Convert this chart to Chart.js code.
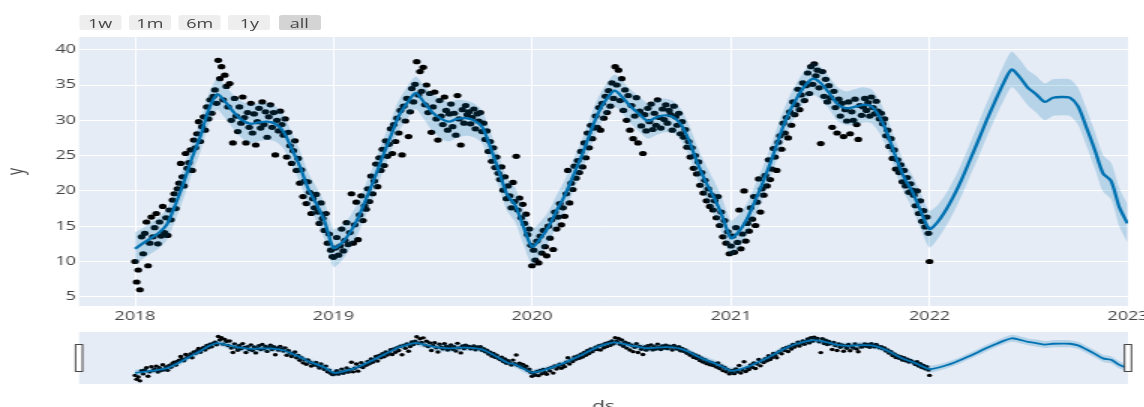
<!DOCTYPE html>
<html>
<head>
<meta charset="utf-8">
<script src="https://cdn.jsdelivr.net/npm/chart.js@4.4.0/dist/chart.umd.min.js"></script>
<style>
  html, body { margin: 0; padding: 0; background: #fff; overflow: hidden; width: 1144px; height: 407px; }
  /* the reference is stretched sideways, so the whole chart is drawn narrow and scaled */
  #wrap { position: absolute; left: 0; top: 0; width: 780px; height: 430px; transform: scaleX(1.5); transform-origin: 0 0; }
  #main { position: absolute; left: 0; top: 0; }
  #slider { position: absolute; left: 0; top: 325px; }
  .btn { position: absolute; top: 15px; height: 15px; width: 28px; line-height: 15px; background: #eeeeee; color: #444;
         font: 12px "Open Sans", sans-serif; text-align: center; border-radius: 2px; }
  .btn.active { background: #d4d4d4; }
</style>
</head>
<body>
<div id="wrap">
  <div id="buttons"></div>
  <canvas id="main" width="780" height="330"></canvas>
  <canvas id="slider" width="780" height="100"></canvas>
</div>
<script>
var rangeButtons = ["1w", "1m", "6m", "1y", "all"];
var yearTicks = [2018, 2019, 2020, 2021, 2022, 2023];
var yTicks = [5, 10, 15, 20, 25, 30, 35, 40];

// observed y, one value every 3 days starting Jan 1
var obs2018 = [10.0, 7.1, 8.8, 6.0, 13.5, 11.1, 14.0, 15.6, 9.4, 12.6, 16.3,
  13.5, 14.8, 16.8, 12.5, 15.6, 13.6, 17.8, 14.1, 16.2,
  13.7, 17.3, 15.9, 18.7, 19.6, 17.5, 20.3, 21.1, 23.9, 22.0,
  20.7, 25.3, 23.2, 24.0, 25.8, 22.9, 27.2, 26.1, 28.1, 29.8,
  27.0, 29.1, 30.5, 28.6, 31.9, 30.2, 32.9, 31.0, 33.4, 34.3, 32.4,
  38.5, 35.9, 37.6, 32.9, 36.4, 34.8, 31.9, 35.2, 30.0, 26.8,
  33.1, 30.6, 28.4, 31.9, 29.6, 33.3, 30.4, 26.8, 31.1, 29.0, 32.4,
  28.2, 30.9, 26.5, 29.8, 31.7, 28.9, 32.6, 29.4, 31.2, 27.6,
  30.5, 32.2, 29.0, 31.1, 25.1, 30.0, 28.5, 31.3, 29.4, 27.9,
  30.2, 24.8, 28.3, 26.4, 23.9, 25.7, 27.1, 22.9, 24.6, 21.1,
  23.0, 19.2, 21.4, 18.2, 21.3, 19.8, 16.8, 18.9, 17.6, 19.5,
  17.0, 15.4, 18.3, 16.1, 14.4, 16.8, 12.6, 13.9, 11.6, 10.7];
var obs2019 = [10.6, 11.9, 13.4, 10.9, 12.2, 14.6, 11.5, 13.0, 15.5, 12.4, 14.1,
  19.6, 12.6, 15.2, 18.4, 13.1, 16.6, 19.3, 15.8, 17.9,
  17.4, 20.3, 18.5, 22.1, 19.6, 21.4, 23.8, 20.6, 24.7, 22.9,
  25.9, 23.6, 27.1, 24.9, 26.6, 28.8, 25.3, 29.4, 27.0, 30.3,
  28.2, 31.4, 25.1, 32.0, 29.9, 33.1, 27.7, 31.2, 34.5, 32.6, 35.1,
  38.3, 33.6, 36.9, 34.1, 37.5, 32.2, 35.0, 31.1, 33.8, 28.3,
  31.9, 34.0, 30.2, 27.2, 32.8, 30.6, 29.4, 33.3, 31.4, 28.6, 30.9,
  32.3, 29.1, 31.0, 27.9, 33.5, 30.2, 26.5, 31.5, 29.6, 32.1,
  30.8, 31.2, 29.5, 30.4, 31.6, 28.8, 30.9, 29.9, 31.1, 28.4,
  29.6, 27.3, 28.5, 25.6, 27.0, 24.2, 26.1, 23.3, 24.8, 22.5,
  21.6, 23.4, 20.1, 22.0, 18.9, 20.7, 19.3, 17.6, 21.2, 18.5,
  24.9, 17.3, 19.0, 16.2, 18.1, 15.4, 16.7, 13.8, 14.6, 12.3];
var obs2020 = [9.4, 11.6, 10.2, 12.9, 9.8, 13.6, 11.2, 14.4, 12.1, 10.8, 15.0,
  13.3, 15.9, 11.7, 17.0, 14.6, 16.3, 18.2, 15.2, 17.6,
  16.4, 19.6, 22.9, 18.3, 21.1, 20.2, 23.5, 21.8, 24.3, 22.6,
  25.6, 23.4, 26.8, 24.7, 28.2, 26.1, 29.3, 27.4, 28.9, 30.6,
  29.0, 31.8, 28.6, 32.4, 30.3, 33.4, 31.1, 34.2, 32.0, 35.3, 33.1,
  37.6, 35.0, 37.1, 32.8, 35.9, 31.4, 34.3, 30.0, 33.5, 28.6,
  32.1, 27.4, 30.6, 33.2, 26.8, 31.3, 29.2, 25.3, 30.8, 28.5, 31.7,
  29.8, 32.3, 28.7, 31.0, 29.3, 32.9, 30.4, 28.9, 31.6, 30.1,
  32.2, 29.6, 31.4, 30.8, 28.6, 32.0, 30.5, 29.3, 31.0, 28.1,
  29.8, 27.6, 28.7, 26.2, 27.0, 24.8, 26.1, 23.2, 25.0, 22.4,
  24.1, 20.8, 22.6, 19.7, 21.5, 18.6, 20.3, 17.8, 19.4, 17.3,
  18.6, 16.2, 19.2, 15.1, 17.0, 13.5, 15.8, 12.6, 14.2, 11.1];
var obs2021 = [12.2, 13.6, 11.3, 14.8, 12.7, 17.3, 11.8, 13.9, 20.0, 12.9, 15.4,
  14.3, 17.6, 16.0, 19.2, 15.1, 18.4, 21.7, 17.0, 20.3,
  19.4, 22.2, 20.7, 24.4, 21.6, 23.1, 26.0, 24.8, 22.9, 26.9,
  27.8, 25.9, 29.6, 28.2, 30.4, 27.5, 31.2, 29.3, 32.6, 30.8,
  32.2, 34.4, 31.5, 33.6, 35.3, 32.8, 34.9, 36.7, 33.8, 37.6, 35.1,
  38.0, 36.3, 37.1, 34.6, 26.7, 36.9, 33.4, 35.8, 32.6, 34.9,
  33.2, 29.0, 34.1, 31.8, 28.2, 33.0, 30.6, 32.4, 27.7, 31.5, 29.9,
  32.6, 28.1, 31.2, 30.0, 33.0, 29.4, 27.3, 32.1, 30.7, 31.9,
  33.1, 31.4, 32.5, 30.6, 33.3, 31.8, 30.9, 32.7, 31.3, 30.2,
  31.0, 29.5, 30.2, 27.8, 28.6, 26.3, 27.4, 24.6, 25.8, 23.1,
  24.4, 22.6, 23.7, 21.3, 22.9, 20.7, 21.9, 19.8, 21.0, 20.1,
  19.4, 17.9, 20.0, 16.8, 18.6, 15.7, 17.2, 14.9, 16.3, 14.0];
var obsExtra = [["2022-01-01", 10.0]];

// forecast on the 1st and 16th of every month 2018-2022, last value is 2022-12-31
var yhat = [11.8, 12.6, 13.4, 14.2, 15.3, 18.0, 21.3, 24.7, 27.7, 31.4, 33.7, 32.6, 31.2, 30.1, 29.5, 29.7, 29.8, 29.5, 28.4, 26.0, 23.3, 20.2, 18.1, 15.6,
  11.9, 12.6, 14.2, 16.3, 18.7, 21.5, 24.8, 27.7, 30.6, 32.4, 33.9, 32.6, 31.2, 30.3, 29.8, 30.2, 30.3, 30.0, 29.1, 26.3, 22.8, 19.5, 18.0, 15.0,
  12.1, 13.2, 15.0, 17.3, 19.3, 22.0, 24.9, 28.0, 30.9, 32.9, 34.2, 33.2, 31.9, 30.9, 29.9, 30.4, 30.7, 30.5, 29.4, 27.1, 23.8, 21.2, 19.0, 16.4,
  13.3, 14.3, 16.3, 18.9, 21.3, 24.3, 27.9, 30.8, 33.0, 34.8, 35.9, 35.2, 33.8, 32.3, 31.7, 31.9, 32.2, 32.0, 30.5, 28.0, 24.6, 21.8, 19.8, 17.1,
  14.6, 15.6, 17.4, 19.5, 21.6, 24.3, 27.2, 30.0, 32.6, 35.1, 37.2, 36.1, 34.6, 33.7, 32.6, 33.2, 33.3, 33.2, 32.0, 29.1, 25.8, 22.5, 21.4, 17.7,
  15.4];
var yhatLower = [9.5, 10.4, 11.2, 12.0, 13.1, 15.8, 19.1, 22.5, 25.5, 29.2, 31.5, 30.3, 28.8, 27.5, 26.8, 27.0, 27.2, 27.0, 26.0, 23.7, 21.0, 17.9, 15.7, 13.0,
  9.2, 10.1, 11.9, 14.1, 16.5, 19.3, 22.6, 25.5, 28.4, 30.1, 31.6, 30.2, 28.6, 27.5, 27.0, 27.5, 27.8, 27.6, 26.8, 24.1, 20.6, 17.2, 15.6, 12.5,
  9.6, 10.8, 12.8, 15.1, 17.1, 19.8, 22.7, 25.8, 28.7, 30.7, 31.9, 30.9, 29.5, 28.4, 27.4, 27.9, 28.3, 28.2, 27.2, 24.9, 21.5, 18.8, 16.6, 13.9,
  10.8, 11.9, 14.1, 16.7, 19.1, 22.1, 25.7, 28.6, 30.8, 32.6, 33.6, 32.9, 31.5, 29.9, 29.3, 29.4, 29.7, 29.6, 28.2, 25.8, 22.4, 19.6, 17.5, 14.6,
  12.0, 13.2, 15.1, 17.2, 19.3, 22.0, 24.8, 27.6, 30.2, 32.6, 34.7, 33.6, 32.1, 31.1, 30.0, 30.6, 30.7, 30.6, 29.4, 26.5, 23.2, 19.9, 18.8, 15.0,
  12.7];
var yhatUpper = [14.1, 14.8, 15.6, 16.4, 17.5, 20.2, 23.5, 26.9, 29.9, 33.6, 35.9, 34.9, 33.6, 32.7, 32.2, 32.4, 32.4, 32.0, 30.8, 28.3, 25.6, 22.5, 20.5, 18.2,
  14.6, 15.1, 16.5, 18.5, 20.9, 23.7, 27.0, 29.9, 32.8, 34.7, 36.2, 35.0, 33.8, 33.1, 32.6, 32.9, 32.8, 32.4, 31.4, 28.5, 25.0, 21.8, 20.4, 17.5,
  14.6, 15.6, 17.2, 19.5, 21.5, 24.2, 27.1, 30.2, 33.1, 35.1, 36.5, 35.5, 34.3, 33.4, 32.4, 32.9, 33.1, 32.8, 31.6, 29.3, 26.1, 23.6, 21.4, 18.9,
  15.8, 16.7, 18.5, 21.1, 23.5, 26.5, 30.1, 33.0, 35.2, 37.0, 38.2, 37.5, 36.1, 34.7, 34.1, 34.4, 34.7, 34.4, 32.8, 30.2, 26.8, 24.0, 22.1, 19.6,
  17.2, 18.0, 19.7, 21.8, 23.9, 26.6, 29.6, 32.4, 35.0, 37.6, 39.7, 38.6, 37.1, 36.3, 35.2, 35.8, 35.9, 35.8, 34.6, 31.7, 28.4, 25.1, 24.0, 20.4,
  18.1];

var DAY = 86400000;
var xMin = Date.UTC(2017, 8, 20);
var xMax = Date.UTC(2023, 0, 1);

function obsPoints(year, vals) {
  var t0 = Date.UTC(year, 0, 1);
  return vals.map(function (v, i) { return { x: t0 + i * 3 * DAY, y: v }; });
}
var actual = [].concat(obsPoints(2018, obs2018), obsPoints(2019, obs2019),
  obsPoints(2020, obs2020), obsPoints(2021, obs2021),
  obsExtra.map(function (d) { return { x: Date.parse(d[0]), y: d[1] }; }));

var trendDates = [];
for (var yr = 2018; yr <= 2022; yr++) {
  for (var m = 0; m < 12; m++) {
    trendDates.push(Date.UTC(yr, m, 1));
    trendDates.push(Date.UTC(yr, m, 16));
  }
}
trendDates.push(Date.UTC(2022, 11, 31));

function pair(vals) {
  return vals.map(function (v, i) { return { x: trendDates[i], y: v }; });
}

function makeDatasets(small) {
  return [
    { label: "Actual", data: actual, showLine: false, pointRadius: small ? 1.7 : 2.6,
      pointBackgroundColor: "#000", pointBorderWidth: 0, order: 3 },
    { label: "upper", data: pair(yhatUpper), borderWidth: 0, pointRadius: 0, fill: false, tension: 0.25, order: 2 },
    { label: "lower", data: pair(yhatLower), borderWidth: 0, pointRadius: 0, fill: "-1", tension: 0.25,
      backgroundColor: "rgba(0, 114, 178, 0.2)", order: 1 },
    { label: "Predicted", data: pair(yhat), borderColor: "#0072B2", borderWidth: small ? 1.8 : 2.3,
      pointRadius: 0, fill: false, tension: 0.25, order: 0 }
  ];
}

var plotBg = {
  id: "plotBg",
  beforeDraw: function (c) {
    var a = c.chartArea;
    c.ctx.save();
    c.ctx.fillStyle = "#e5ecf6";
    c.ctx.fillRect(a.left, a.top, a.right - a.left, a.bottom - a.top);
    c.ctx.restore();
  }
};

var grabbers = {
  id: "grabbers",
  afterDraw: function (c) {
    var a = c.chartArea, ctx = c.ctx, cy = (a.top + a.bottom) / 2;
    ctx.save();
    ctx.fillStyle = "#fff";
    ctx.strokeStyle = "#444";
    ctx.lineWidth = 1;
    [a.left, a.right].forEach(function (x) {
      ctx.fillRect(x - 2.3, cy - 13.5, 4.6, 27);
      ctx.strokeRect(x - 2.3, cy - 13.5, 4.6, 27);
    });
    ctx.restore();
  }
};

Chart.defaults.font.family = '"Open Sans", sans-serif';
Chart.defaults.color = "#444";

// range selector buttons
var btnBox = document.getElementById("buttons");
rangeButtons.forEach(function (b, k) {
  var el = document.createElement("div");
  el.className = "btn" + (b === "all" ? " active" : "");
  el.style.left = (52.7 + k * 33.2) + "px";
  el.textContent = b;
  btnBox.appendChild(el);
});

new Chart(document.getElementById("main"), {
  type: "line",
  data: { datasets: makeDatasets(false) },
  options: {
    responsive: false,
    animation: false,
    layout: { padding: { left: 0, right: 28, top: 37, bottom: 4 } },
    plugins: { legend: { display: false }, tooltip: { enabled: false } },
    scales: {
      x: {
        type: "linear", min: xMin, max: xMax,
        afterBuildTicks: function (s) {
          s.ticks = yearTicks.map(function (y) { return { value: Date.UTC(y, 0, 1) }; });
        },
        afterFit: function (s) { s.height = 20; },
        ticks: {
          autoSkip: false, maxRotation: 0, padding: 3, color: "#444", font: { size: 12 },
          callback: function (v) { return new Date(v).getUTCFullYear(); }
        },
        grid: { color: "#ffffff", lineWidth: 1, drawTicks: false },
        border: { display: false }
      },
      y: {
        min: 3.7, max: 41.8,
        afterBuildTicks: function (s) {
          s.ticks = yTicks.map(function (v) { return { value: v }; });
        },
        afterFit: function (s) { s.width = 52.67; },
        ticks: { padding: 2, color: "#444", font: { size: 12 } },
        grid: { color: "#ffffff", lineWidth: 1, drawTicks: false },
        border: { display: false },
        title: { display: true, text: "y", color: "#444", font: { size: 14 }, padding: { top: 3, bottom: 3 } }
      }
    }
  },
  plugins: [plotBg]
});

new Chart(document.getElementById("slider"), {
  type: "line",
  data: { datasets: makeDatasets(true) },
  options: {
    responsive: false,
    animation: false,
    layout: { padding: { left: 52.67, right: 28, top: 7, bottom: 0 } },
    plugins: { legend: { display: false }, tooltip: { enabled: false } },
    scales: {
      x: {
        type: "linear", min: xMin, max: xMax,
        afterFit: function (s) { s.height = 41; },
        ticks: { display: false },
        grid: { display: false },
        border: { display: false },
        title: { display: true, text: "ds", color: "#444", font: { size: 14 }, padding: { top: 0, bottom: 10 } }
      },
      y: { display: false, min: 3.7, max: 41.8 }
    }
  },
  plugins: [plotBg, grabbers]
});
</script>
</body>
</html>
